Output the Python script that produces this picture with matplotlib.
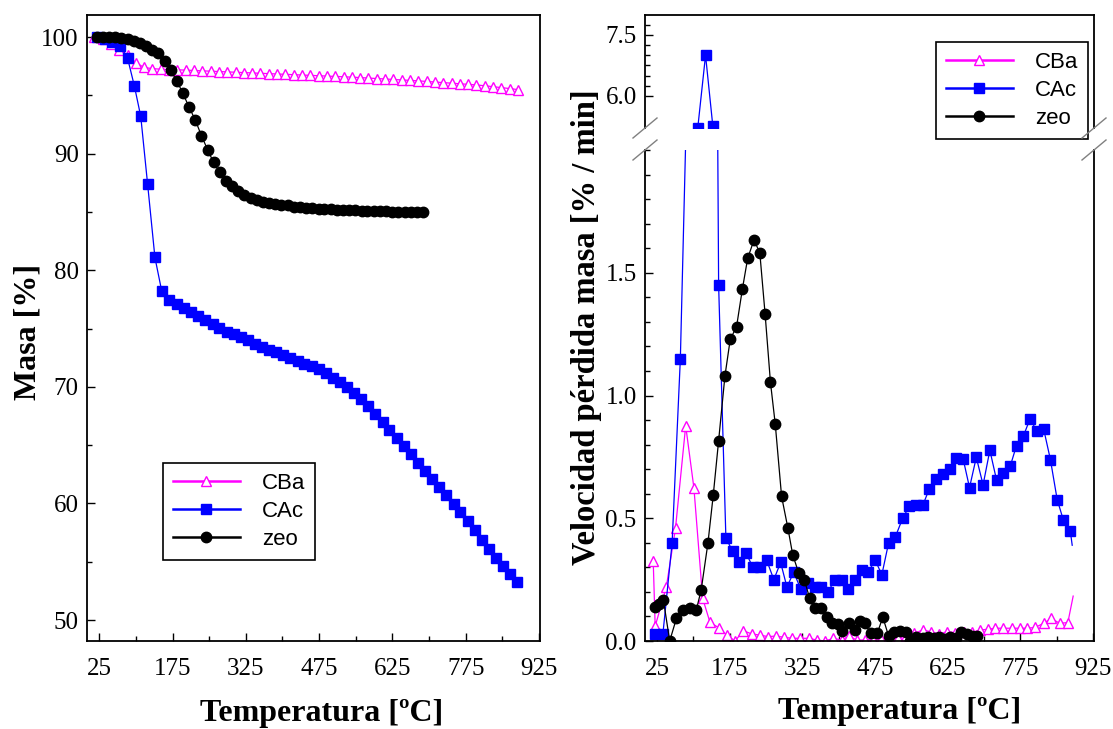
'''
Thermogravimetric curves (TG and DTG) for CBa, CAc and zeo
'''

import matplotlib
matplotlib.use('Agg')
import matplotlib.pyplot as plt
from matplotlib.lines import Line2D
from matplotlib.ticker import MultipleLocator, FormatStrFormatter, FixedLocator


# ---- TG data (left panel): mass [%] vs temperature [C]
cba_T = [15, 32, 49, 66, 83, 100, 117, 134, 151, 168, 185, 202, 219, 236, 253, 270,
         287, 304, 321, 338, 355, 372, 389, 406, 423, 440, 457, 474, 491, 508, 525,
         542, 559, 576, 593, 610, 627, 644, 661, 678, 695, 712, 729, 746, 763, 780,
         797, 814, 831, 848, 865, 882]
cba_mass = [100.0, 99.8, 99.4, 98.9, 98.5, 97.8, 97.4, 97.3, 97.25, 97.22, 97.2, 97.17,
            97.14, 97.11, 97.08, 97.05, 97.02, 96.99, 96.96, 96.93, 96.9, 96.87, 96.84,
            96.81, 96.78, 96.75, 96.72, 96.69, 96.66, 96.63, 96.6, 96.57, 96.53, 96.49,
            96.45, 96.41, 96.37, 96.33, 96.29, 96.25, 96.2, 96.15, 96.1, 96.05, 96.0,
            95.95, 95.9, 95.83, 95.75, 95.67, 95.59, 95.5]

cac_T = [20, 36, 52, 68, 83, 97, 110, 124, 139, 153, 168, 184, 199, 213, 228, 242, 257,
         271, 286, 300, 315, 329, 344, 358, 373, 387, 402, 416, 431, 445, 460, 474, 489,
         503, 518, 532, 547, 561, 576, 590, 605, 619, 634, 648, 663, 677, 692, 706, 721,
         735, 750, 764, 779, 793, 808, 822, 837, 851, 866, 880]
cac_mass = [100.0, 99.85, 99.6, 99.25, 98.2, 95.8, 93.2, 87.4, 81.1, 78.2, 77.45, 77.1,
            76.8, 76.4, 76.05, 75.7, 75.4, 75.05, 74.7, 74.5, 74.25, 74.0, 73.7, 73.45,
            73.2, 73.0, 72.75, 72.5, 72.25, 72.0, 71.75, 71.5, 71.2, 70.8, 70.4, 69.95,
            69.5, 69.0, 68.4, 67.7, 67.0, 66.3, 65.6, 64.9, 64.2, 63.5, 62.8, 62.1, 61.4,
            60.7, 59.95, 59.25, 58.5, 57.7, 56.85, 56.05, 55.3, 54.6, 53.95, 53.3]

zeo_T = [20, 33, 45, 58, 70, 83, 96, 108, 121, 133, 146, 159, 171, 184, 196, 209, 222,
         234, 247, 259, 272, 285, 297, 310, 322, 335, 348, 360, 373, 385, 398, 411, 423,
         436, 448, 461, 474, 486, 499, 511, 524, 537, 549, 562, 574, 587, 600, 612, 625,
         637, 650, 663, 675, 688]
zeo_mass = [100.0, 100.0, 100.0, 100.0, 99.95, 99.83, 99.71, 99.54, 99.25, 98.91, 98.62,
            97.99, 97.14, 96.25, 95.19, 93.99, 92.85, 91.56, 90.33, 89.25, 88.39, 87.68,
            87.19, 86.76, 86.47, 86.19, 86.05, 85.9, 85.76, 85.7, 85.62, 85.56, 85.47,
            85.42, 85.38, 85.34, 85.3, 85.27, 85.24, 85.21, 85.18, 85.16, 85.14, 85.12,
            85.1, 85.08, 85.06, 85.05, 85.04, 85.03, 85.02, 85.01, 85.0, 84.99]

# ---- DTG data (right panel): mass loss rate [%/min] vs temperature [C]
# last point of CBa and CAc is the end of the trace (no marker)
cba_dT = [17, 21, 44, 63, 84, 101, 119, 134, 152, 169, 186, 203, 220, 237, 254, 271, 287,
          304, 321, 338, 355, 372, 389, 406, 421, 437, 454, 471, 488, 505, 522, 539, 556,
          573, 590, 607, 624, 641, 658, 675, 692, 709, 723, 740, 757, 774, 788, 805, 823,
          839, 856, 873, 884]
cba_rate = [0.324, 0.06, 0.22, 0.46, 0.877, 0.623, 0.174, 0.077, 0.054, 0.024, 0.0, 0.042,
            0.029, 0.024, 0.018, 0.02, 0.015, 0.011, 0.011, 0.011, 0.004, 0.0, 0.011,
            0.004, 0.02, 0.004, 0.004, 0.006, 0.009, 0.006, 0.012, 0.02, 0.031, 0.045,
            0.038, 0.029, 0.038, 0.034, 0.038, 0.035, 0.045, 0.048, 0.052, 0.052, 0.052,
            0.052, 0.052, 0.055, 0.072, 0.092, 0.072, 0.075, 0.183]

cac_dT = [20, 37, 56, 73, 91, 109, 125, 140, 152, 167, 181, 195, 208, 223, 237, 251, 266,
          280, 293, 307, 322, 336, 350, 364, 378, 392, 406, 420, 434, 447, 461, 475, 489,
          503, 517, 532, 546, 560, 574, 587, 601, 615, 629, 643, 657, 670, 684, 698, 712,
          726, 740, 754, 767, 781, 795, 809, 823, 837, 851, 864, 878, 882]
cac_rate = [0.03, 0.03, 0.40, 1.15, 2.6, 5.22, 7.0, 5.26, 1.45, 0.42, 0.365, 0.32, 0.36,
            0.30, 0.30, 0.33, 0.25, 0.32, 0.22, 0.28, 0.21, 0.235, 0.22, 0.22, 0.20, 0.25,
            0.25, 0.21, 0.25, 0.29, 0.28, 0.33, 0.27, 0.40, 0.425, 0.50, 0.55, 0.555,
            0.555, 0.62, 0.66, 0.68, 0.70, 0.745, 0.74, 0.625, 0.748, 0.636, 0.777, 0.654,
            0.684, 0.712, 0.796, 0.834, 0.905, 0.854, 0.864, 0.739, 0.576, 0.491, 0.449,
            0.39]

zeo_dT = [20, 28, 38, 51, 65, 78, 92, 106, 116, 130, 141, 152, 165, 176, 189, 201, 212,
          225, 237, 248, 259, 269, 282, 295, 305, 317, 329, 340, 351, 363, 375, 387, 398,
          407, 421, 433, 443, 454, 466, 480, 491, 503, 515, 527, 539, 548, 560, 573, 585,
          597, 607, 618, 630, 642, 652, 664, 676, 686]
zeo_rate = [0.14, 0.15, 0.167, 0.0, 0.093, 0.127, 0.136, 0.127, 0.208, 0.40, 0.596, 0.816,
            1.079, 1.229, 1.28, 1.433, 1.559, 1.633, 1.582, 1.331, 1.054, 0.882, 0.589,
            0.46, 0.351, 0.279, 0.249, 0.174, 0.136, 0.136, 0.099, 0.075, 0.069, 0.042,
            0.075, 0.045, 0.082, 0.072, 0.031, 0.034, 0.097, 0.02, 0.038, 0.042, 0.038,
            0.0, 0.015, 0.011, 0.018, 0.011, 0.015, 0.007, 0.015, 0.011, 0.038, 0.029,
            0.02, 0.02]

X_TICKS = [25, 175, 325, 475, 625, 775, 925]
X_MINOR = [100, 250, 400, 550, 700, 850]
LABELS = ['CBa', 'CAc', 'zeo']

MAGENTA = '#ff00ff'
BLUE = '#0000ff'
BLACK = '#000000'

W, H = 1113, 729
SERIF = 'Liberation Serif'
SANS = 'Liberation Sans'


def fig_rect(x0, y0, x1, y1):
    # pixel box (top-left origin) -> figure fraction rect
    return [x0 / W, 1 - y1 / H, (x1 - x0) / W, (y1 - y0) / H]


def style_axis(ax):
    for sp in ax.spines.values():
        sp.set_linewidth(1.3)
    ax.tick_params(which='both', direction='in', top=False, right=False,
                   labelsize=18, width=1.0)
    ax.tick_params(which='major', length=6)
    ax.tick_params(which='minor', length=3.5)
    ax.tick_params(axis='x', pad=12)
    ax.tick_params(axis='y', pad=6)
    for lab in ax.get_xticklabels() + ax.get_yticklabels():
        lab.set_fontfamily(SERIF)


def plot_series(ax, cba, cac, zeo, end_trace=False):
    mk = slice(0, -1) if end_trace else None
    l1, = ax.plot(cba[0], cba[1], '-^', color=MAGENTA, mfc='white', mec=MAGENTA,
                  mew=1.0, markevery=mk, lw=0.9, ms=7.5)
    l2, = ax.plot(cac[0], cac[1], '-s', color=BLUE, mfc=BLUE, mec=BLUE,
                  markevery=mk, lw=0.9, ms=7.2)
    l3, = ax.plot(zeo[0], zeo[1], '-o', color=BLACK, mfc=BLACK, mec=BLACK,
                  lw=0.9, ms=7.5)
    return [l1, l2, l3]


def add_legend(ax, handles, x, y):
    leg = ax.legend(handles, LABELS, loc='upper left', bbox_to_anchor=(x / W, 1 - y / H),
                    bbox_transform=ax.figure.transFigure, borderaxespad=0,
                    frameon=True, fancybox=False, framealpha=1, edgecolor='black',
                    prop={'family': SANS, 'size': 16}, handlelength=3.0,
                    handletextpad=1.0, labelspacing=0.32, borderpad=0.45)
    leg.get_frame().set_linewidth(1.2)
    for h in leg.legend_handles:
        h.set_linewidth(1.8)
    return leg


def make_figure():
    fig = plt.figure(figsize=(W / 100, H / 100), dpi=100)

    # ---------------- left: TG
    ax = fig.add_axes(fig_rect(87, 15, 540, 641))
    hl = plot_series(ax, (cba_T, cba_mass), (cac_T, cac_mass), (zeo_T, zeo_mass))
    ax.set_xlim(0, 927)
    ax.set_ylim(48.2, 101.9)
    ax.xaxis.set_major_locator(FixedLocator(X_TICKS))
    ax.xaxis.set_minor_locator(FixedLocator(X_MINOR))
    ax.yaxis.set_major_locator(MultipleLocator(10))
    ax.yaxis.set_minor_locator(MultipleLocator(5))
    style_axis(ax)
    add_legend(ax, hl, 163, 463)

    # ---------------- right: DTG with broken y axis
    ax_top = fig.add_axes(fig_rect(645, 15, 1094, 128))
    ax_bot = fig.add_axes(fig_rect(645, 150, 1094, 641))
    for a in (ax_top, ax_bot):
        hr = plot_series(a, (cba_dT, cba_rate), (cac_dT, cac_rate), (zeo_dT, zeo_rate),
                         end_trace=True)
        a.set_xlim(0, 927)
    ax_top.set_ylim(5.21, 7.99)
    ax_bot.set_ylim(0, 2.0)

    ax_top.spines['bottom'].set_visible(False)
    ax_bot.spines['top'].set_visible(False)

    ax_top.yaxis.set_major_locator(FixedLocator([6.0, 7.5]))
    ax_top.yaxis.set_minor_locator(FixedLocator([6.25, 6.5, 6.75, 7.0, 7.25, 7.75]))
    ax_top.yaxis.set_major_formatter(FormatStrFormatter('%.1f'))
    ax_bot.yaxis.set_major_locator(FixedLocator([0.0, 0.5, 1.0, 1.5]))
    ax_bot.yaxis.set_minor_locator(MultipleLocator(0.1))
    ax_bot.yaxis.set_major_formatter(FormatStrFormatter('%.1f'))
    ax_bot.xaxis.set_major_locator(FixedLocator(X_TICKS))
    ax_bot.xaxis.set_minor_locator(FixedLocator(X_MINOR))
    style_axis(ax_top)
    style_axis(ax_bot)
    ax_top.tick_params(axis='x', which='both', bottom=False, labelbottom=False)

    add_legend(ax_top, hr, 936, 42)

    # break marks on both sides
    for xc in (645, 1094):
        for yc in (128, 150):
            fig.add_artist(Line2D([(xc - 12) / W, (xc + 12) / W],
                                  [1 - (yc + 10) / H, 1 - (yc - 10) / H],
                                  transform=fig.transFigure, color='0.5', lw=1.0))

    # ---------------- axis titles
    lab = dict(fontfamily=SERIF, fontweight='bold', fontsize=23,
               ha='center', va='center')
    fig.text(322 / W, 1 - 714 / H, 'Temperatura [ºC]', **lab)
    fig.text(900 / W, 1 - 712 / H, 'Temperatura [ºC]', **lab)
    fig.text(28 / W, 1 - 332 / H, 'Masa [%]', rotation=90, **lab)
    fig.text(586 / W, 1 - 327 / H, 'Velocidad pérdida masa [% / min]', rotation=90,
             fontfamily=SERIF, fontweight='bold', fontsize=23.5, ha='center', va='center')

    fig.savefig('out.png', dpi=100)


if __name__ == "__main__":
    make_figure()
